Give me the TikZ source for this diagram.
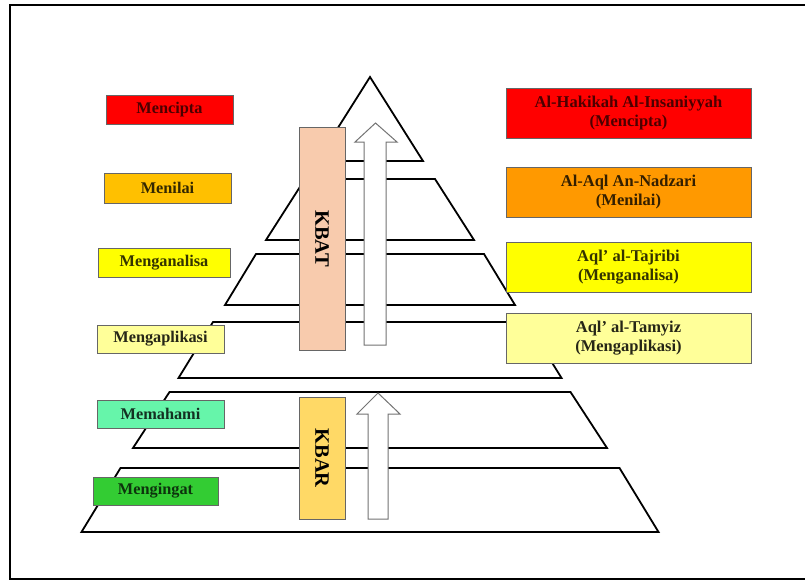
\documentclass[tikz,border=0pt]{standalone}
\usepackage{fontspec}
\setmainfont{Liberation Serif}
\definecolor{cipta}{HTML}{FF0000}
\definecolor{nilai}{HTML}{FFC000}
\definecolor{analisa}{HTML}{FFFF00}
\definecolor{aplikasi}{HTML}{FFFF99}
\definecolor{paham}{HTML}{66F5AA}
\definecolor{ingat}{HTML}{33CC33}
\definecolor{nadzari}{HTML}{FF9900}
\definecolor{kbat}{HTML}{F8CBAD}
\definecolor{kbar}{HTML}{FFD966}
\begin{document}
\begin{tikzpicture}[x=1pt,y=-1pt,
  layer/.style={draw=black,line width=1.8pt,fill=white},
  lbox/.style={draw=black!60,line width=.8pt,inner sep=0pt,minimum width=127pt,minimum height=29pt,font=\fontsize{16.3}{19}\selectfont\bfseries},
  rbox/.style={draw=black!60,line width=.8pt,inner sep=0pt,minimum width=245pt,minimum height=50pt,align=center,font=\fontsize{16.5}{19}\selectfont\bfseries},
  kbox/.style={draw=black!60,line width=.8pt,inner sep=0pt,minimum width=46pt,font=\fontsize{20.5}{24}\selectfont\bfseries},
  uparrow/.style={draw=black!55,fill=white,line width=1pt}]
\useasboundingbox (0,0) rectangle (805,583);
\draw[line width=2.2pt] (808,5) -- (10,5) -- (10,579) -- (808,579);
% the pyramid, top to bottom
\draw[layer] (370,77) -- (423,161) -- (317,161) -- cycle;
\foreach \t/\b/\tw/\bw in {179/240/65/104, 254/305/114/145, 322/378/157/191.5, 392/448/200.5/237, 468/532/249.5/288.5}
  \draw[layer] (370-\tw,\t) -- (370+\tw,\t) -- (370+\bw,\b) -- (370-\bw,\b) -- cycle;
% levels on the left
\node[lbox,fill=cipta,text=cipta!30!black] (cipta) at (169.5,109.5) {Mencipta};
\node[lbox,fill=nilai,text=nilai!20!black,minimum height=30pt] (nilai) at (167.5,188) {Menilai};
\node[lbox,fill=analisa,text=analisa!20!black,minimum width=132pt] (analisa) at (164,262.5) {Menganalisa};
\node[lbox,fill=aplikasi,text=aplikasi!15!black,minimum height=28pt] (aplikasi) at (160.5,339) {Mengaplikasi};
\node[lbox,fill=paham,text=paham!20!black,minimum height=28pt] (paham) at (160.5,414) {Memahami};
\node[lbox,fill=ingat,text=ingat!25!black,minimum width=125pt,minimum height=28pt] (ingat) at (155.5,491) {Mengingat};
% levels on the right
\node[rbox,fill=cipta,text=cipta!30!black] (insaniyyah) at (628.5,113) {Al-Hakikah Al-Insaniyyah\\(Mencipta)};
\node[rbox,fill=nadzari,text=nadzari!20!black] (nadzari) at (628.5,192.5) {Al-Aql An-Nadzari\\(Menilai)};
\node[rbox,fill=analisa,text=analisa!20!black] (tajribi) at (628.5,267) {Aql' al-Tajribi\\(Menganalisa)};
\node[rbox,fill=aplikasi,text=aplikasi!15!black] (tamyiz) at (628.5,338) {Aql' al-Tamyiz\\(Mengaplikasi)};
% KBAT and KBAR
\node[kbox,fill=kbat,minimum height=223pt] (kbat) at (322,238.5) {\rotatebox{-90}{KBAT}};
\node[kbox,fill=kbar,minimum height=122pt] (kbar) at (322,458) {\rotatebox{-90}{KBAR}};
\draw[uparrow] (364,345) -- (364,142) -- (355,142) -- (375.5,123) -- (397,142) -- (386,142) -- (386,345) -- cycle;
\draw[uparrow] (368,519) -- (368,414) -- (357,414) -- (378,393) -- (400,414) -- (388,414) -- (388,519) -- cycle;
\end{tikzpicture}
\end{document}
